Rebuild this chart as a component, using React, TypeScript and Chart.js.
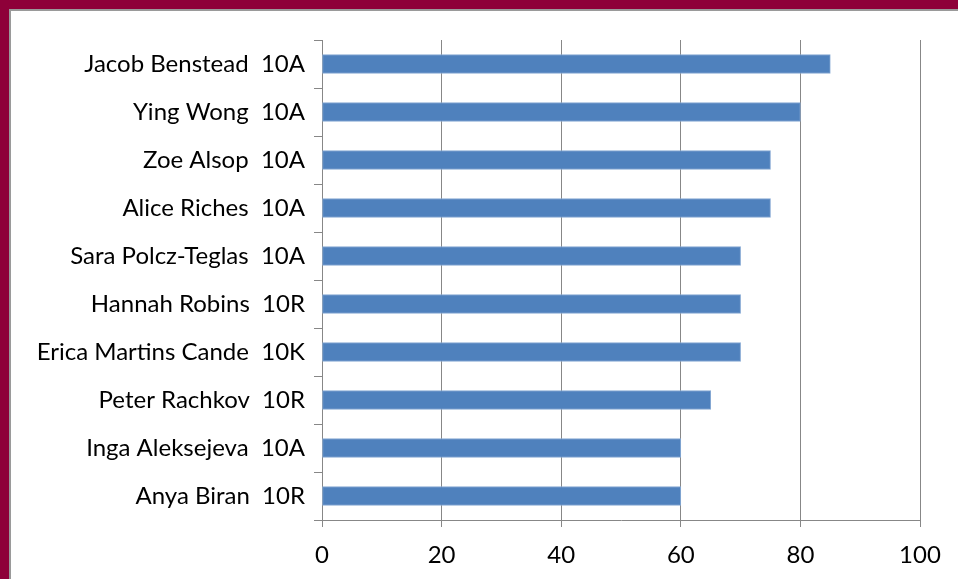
import React, { useEffect, useRef } from "react";
import Chart from "chart.js/auto";

const students = [
  "Jacob Benstead  10A",
  "Ying Wong  10A",
  "Zoe Alsop  10A",
  "Alice Riches  10A",
  "Sara Polcz-Teglas  10A",
  "Hannah Robins  10R",
  "Erica Martins Cande  10K",
  "Peter Rachkov  10R",
  "Inga Aleksejeva  10A",
  "Anya Biran  10R",
];
const scores = [85, 80, 75, 75, 70, 70, 70, 65, 60, 60];
const axisMin = 0;
const axisMax = 100;
const axisStep = 20;

const GRID = "#878787";
const FONT = { family: "Lato, 'Open Sans', sans-serif", size: 24 };

export default function App() {
  const ref = useRef<HTMLCanvasElement | null>(null);

  useEffect(() => {
    document.body.style.margin = "0";
    const canvas = ref.current;
    if (!canvas) return;
    const chart = new Chart(canvas, {
      type: "bar",
      data: {
        labels: students,
        datasets: [
          {
            data: scores,
            backgroundColor: "#4F81BD",
            borderColor: "#86a8d3",
            borderWidth: 1,
            borderSkipped: false,
            barThickness: 19,
          },
        ],
      },
      options: {
        indexAxis: "y",
        responsive: false,
        animation: false,
        maintainAspectRatio: false,
        layout: { padding: { left: 0, top: 40, right: 38, bottom: 0 } },
        plugins: { legend: { display: false }, tooltip: { enabled: false } },
        scales: {
          y: {
            type: "category",
            offset: true,
            grid: {
              offset: true,
              drawOnChartArea: false,
              drawTicks: true,
              tickLength: 8,
              color: GRID,
              lineWidth: 1,
            },
            border: { display: true, color: GRID, width: 1 },
            ticks: { color: "#000", font: FONT, padding: 9, autoSkip: false },
            afterFit: (s: any) => {
              s.width = 322;
            },
          },
          x: {
            min: axisMin,
            max: axisMax,
            grid: { color: GRID, lineWidth: 1, tickLength: 7, drawTicks: true },
            border: { display: true, color: GRID, width: 1 },
            ticks: { stepSize: axisStep, color: "#000", font: FONT, padding: 14, maxRotation: 0 },
            afterFit: (s: any) => {
              s.height = 59;
            },
          },
        },
      },
    });
    return () => chart.destroy();
  }, []);

  return (
    <div
      style={{
        position: "fixed",
        left: 0,
        top: 0,
        width: 958,
        height: 579,
        background: "#8E0039",
        overflow: "hidden",
      }}
    >
      <div
        style={{
          position: "absolute",
          left: 9,
          top: 9,
          right: 0,
          bottom: 0,
          background: "#fff",
          borderLeft: "2px solid #9a9a9a",
          borderTop: "2px solid #9a9a9a",
        }}
      />
      <canvas
        ref={ref}
        width={958}
        height={579}
        style={{ position: "absolute", left: 0, top: 0, width: 958, height: 579 }}
      />
    </div>
  );
}
